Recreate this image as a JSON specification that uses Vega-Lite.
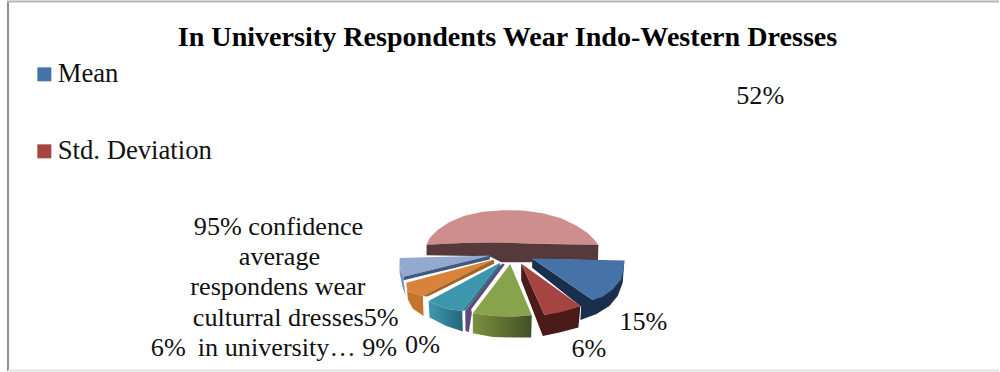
{
  "$schema": "https://vega.github.io/schema/vega-lite/v6.json",
  "width": 1000,
  "height": 372,
  "autosize": {"type": "fit", "contains": "padding"},
  "padding": 0,
  "background": "#ffffff",
  "config": {"view": {"stroke": null}},
  "datasets": {
    "faces": [
      {"part":"Slice 8","seq":1,"x":427,"y":245},{"part":"Slice 8","seq":2,"x":430,"y":238.3},{"part":"Slice 8","seq":3,"x":438.3,"y":230},{"part":"Slice 8","seq":4,"x":450,"y":222.3},{"part":"Slice 8","seq":5,"x":465,"y":216},{"part":"Slice 8","seq":6,"x":483.3,"y":212},{"part":"Slice 8","seq":7,"x":503.3,"y":210.3},{"part":"Slice 8","seq":8,"x":523.3,"y":210.7},{"part":"Slice 8","seq":9,"x":543.3,"y":213.3},{"part":"Slice 8","seq":10,"x":561.7,"y":218.3},{"part":"Slice 8","seq":11,"x":576.7,"y":225.7},{"part":"Slice 8","seq":12,"x":588.3,"y":233.3},{"part":"Slice 8","seq":13,"x":595,"y":240},{"part":"Slice 8","seq":14,"x":599,"y":245},{"part":"Slice 8","seq":15,"x":566.7,"y":244.3},{"part":"Slice 8","seq":16,"x":533.3,"y":244},{"part":"Slice 8","seq":17,"x":496.7,"y":242.7},{"part":"Slice 8","seq":18,"x":463.3,"y":243.3},
      {"part":"Slice 8 edge","seq":1,"x":427,"y":245},{"part":"Slice 8 edge","seq":2,"x":463.3,"y":243.3},{"part":"Slice 8 edge","seq":3,"x":496.7,"y":242.7},{"part":"Slice 8 edge","seq":4,"x":533.3,"y":244},{"part":"Slice 8 edge","seq":5,"x":599,"y":245},{"part":"Slice 8 edge","seq":6,"x":598.5,"y":260.7},{"part":"Slice 8 edge","seq":7,"x":533,"y":259.3},{"part":"Slice 8 edge","seq":8,"x":532.7,"y":262.7},{"part":"Slice 8 edge","seq":9,"x":501.7,"y":262.7},{"part":"Slice 8 edge","seq":10,"x":490,"y":256.7},{"part":"Slice 8 edge","seq":11,"x":427,"y":255.7},
      {"part":"Slice 7 rim","seq":1,"x":400,"y":258.3},{"part":"Slice 7 rim","seq":2,"x":400.7,"y":270},{"part":"Slice 7 rim","seq":3,"x":404,"y":277.3},{"part":"Slice 7 rim","seq":4,"x":404,"y":280.7},{"part":"Slice 7 rim","seq":5,"x":406,"y":296.7},{"part":"Slice 7 rim","seq":6,"x":402.7,"y":286.7},{"part":"Slice 7 rim","seq":7,"x":400,"y":273.3},
      {"part":"Slice 7","seq":1,"x":491,"y":256},{"part":"Slice 7","seq":2,"x":404,"y":277.3},{"part":"Slice 7","seq":3,"x":400.7,"y":270},{"part":"Slice 7","seq":4,"x":400,"y":258.3},
      {"part":"Slice 7 edge","seq":1,"x":491,"y":256},{"part":"Slice 7 edge","seq":2,"x":490,"y":260},{"part":"Slice 7 edge","seq":3,"x":404,"y":280.7},{"part":"Slice 7 edge","seq":4,"x":404,"y":277.3},
      {"part":"Slice 6 rim","seq":1,"x":406.7,"y":283.3},{"part":"Slice 6 rim","seq":2,"x":408.3,"y":291.7},{"part":"Slice 6 rim","seq":3,"x":423.3,"y":296.7},{"part":"Slice 6 rim","seq":4,"x":424,"y":316.7},{"part":"Slice 6 rim","seq":5,"x":413.3,"y":309.3},{"part":"Slice 6 rim","seq":6,"x":408.3,"y":300},
      {"part":"Slice 6","seq":1,"x":494,"y":260},{"part":"Slice 6","seq":2,"x":423.3,"y":296.7},{"part":"Slice 6","seq":3,"x":408.3,"y":291.7},{"part":"Slice 6","seq":4,"x":406.7,"y":283.3},
      {"part":"Slice 6 edge","seq":1,"x":494,"y":260},{"part":"Slice 6 edge","seq":2,"x":495,"y":264},{"part":"Slice 6 edge","seq":3,"x":428,"y":297},{"part":"Slice 6 edge","seq":4,"x":423.3,"y":296.7},
      {"part":"Slice 5","seq":1,"x":500,"y":263.3},{"part":"Slice 5","seq":2,"x":462.7,"y":311.7},{"part":"Slice 5","seq":3,"x":446.7,"y":309.3},{"part":"Slice 5","seq":4,"x":429,"y":301.7},
      {"part":"Slice 5 edge","seq":1,"x":500,"y":263.3},{"part":"Slice 5 edge","seq":2,"x":501.7,"y":267.3},{"part":"Slice 5 edge","seq":3,"x":466,"y":311},{"part":"Slice 5 edge","seq":4,"x":462.7,"y":311.7},
      {"part":"Slice 4","seq":1,"x":502.7,"y":264},{"part":"Slice 4","seq":2,"x":505.3,"y":265},{"part":"Slice 4","seq":3,"x":471.7,"y":310},{"part":"Slice 4","seq":4,"x":472.3,"y":314},{"part":"Slice 4","seq":5,"x":469.3,"y":332.7},{"part":"Slice 4","seq":6,"x":466,"y":331.7},{"part":"Slice 4","seq":7,"x":465.7,"y":311.7},
      {"part":"Slice 3","seq":1,"x":510.7,"y":264.3},{"part":"Slice 3","seq":2,"x":532.3,"y":316},{"part":"Slice 3","seq":3,"x":516.7,"y":317.3},{"part":"Slice 3","seq":4,"x":493.3,"y":316.7},{"part":"Slice 3","seq":5,"x":473.3,"y":314},
      {"part":"Std. Deviation edge","seq":1,"x":521.7,"y":264},{"part":"Std. Deviation edge","seq":2,"x":521.7,"y":280.7},{"part":"Std. Deviation edge","seq":3,"x":543.3,"y":336.7},{"part":"Std. Deviation edge","seq":4,"x":560,"y":333.3},{"part":"Std. Deviation edge","seq":5,"x":579,"y":328.3},{"part":"Std. Deviation edge","seq":6,"x":581,"y":306.7},{"part":"Std. Deviation edge","seq":7,"x":545,"y":315.7},
      {"part":"Std. Deviation","seq":1,"x":521.7,"y":264},{"part":"Std. Deviation","seq":2,"x":581,"y":306.7},{"part":"Std. Deviation","seq":3,"x":573.3,"y":309.3},{"part":"Std. Deviation","seq":4,"x":560,"y":313.3},{"part":"Std. Deviation","seq":5,"x":545,"y":315.7},
      {"part":"Mean edge","seq":1,"x":532.7,"y":259},{"part":"Mean edge","seq":2,"x":532.7,"y":268.3},{"part":"Mean edge","seq":3,"x":581.7,"y":307.3},{"part":"Mean edge","seq":4,"x":581,"y":320.7},{"part":"Mean edge","seq":5,"x":596.7,"y":315},{"part":"Mean edge","seq":6,"x":610,"y":306.7},{"part":"Mean edge","seq":7,"x":618.3,"y":296.7},{"part":"Mean edge","seq":8,"x":623.3,"y":283.3},{"part":"Mean edge","seq":9,"x":625,"y":261},{"part":"Mean edge","seq":10,"x":593.3,"y":300.7},
      {"part":"Mean","seq":1,"x":532.7,"y":259},{"part":"Mean","seq":2,"x":625,"y":261},{"part":"Mean","seq":3,"x":624.3,"y":270},{"part":"Mean","seq":4,"x":621.7,"y":280},{"part":"Mean","seq":5,"x":613.3,"y":290},{"part":"Mean","seq":6,"x":603.3,"y":297.3},{"part":"Mean","seq":7,"x":593.3,"y":300.7}
    ],
    "greenRim": [
      {"seq":1,"x":473.3,"y":314},{"seq":2,"x":493.3,"y":316.7},{"seq":3,"x":516.7,"y":317.3},{"seq":4,"x":532.3,"y":316},{"seq":5,"x":531.7,"y":338.3},{"seq":6,"x":513.3,"y":338.3},{"seq":7,"x":493.3,"y":337.7},{"seq":8,"x":473.3,"y":334}
    ],
    "tealRim": [
      {"seq":1,"x":429,"y":301.7},{"seq":2,"x":446.7,"y":309.3},{"seq":3,"x":462.7,"y":311.7},{"seq":4,"x":463.3,"y":332.3},{"seq":5,"x":446.7,"y":326.7},{"seq":6,"x":430,"y":318.3}
    ],
    "labels": [
      {"text":"52%","x":737,"y":104},
      {"text":"15%","x":620,"y":331},
      {"text":"6%","x":572,"y":358},
      {"text":"0%","x":405.5,"y":354},
      {"text":"6%","x":151,"y":357},
      {"text":"95% confidence","x":194,"y":235},
      {"text":"average","x":239,"y":265.7},
      {"text":"respondens wear","x":190.5,"y":296},
      {"text":"culturral dresses5%","x":193,"y":326.7},
      {"text":"in university… 9%","x":198,"y":357}
    ],
    "frame": [
      {"side":"left","x":8,"y":0,"x2":8,"y2":372},
      {"side":"top","x":7,"y":0.5,"x2":1000,"y2":0.5},
      {"side":"bottom","x":8,"y":371.5,"x2":1000,"y2":371.5}
    ]
  },
  "data": {"name": "faces"},
  "encoding": {
    "x": {"field": "x", "type": "quantitative", "scale": {"domain": [0, 1000], "nice": false, "zero": false}, "axis": null},
    "y": {"field": "y", "type": "quantitative", "scale": {"domain": [372, 0], "nice": false, "zero": false}, "axis": null}
  },
  "layer": [
    {
      "data": {"name": "frame"},
      "mark": {"type": "rule", "strokeWidth": 2},
      "encoding": {
        "x2": {"field": "x2"},
        "y2": {"field": "y2"},
        "stroke": {"field": "side", "type": "nominal", "legend": null, "scale": {"domain": ["left", "top", "bottom"], "range": ["#8f8f8f", "#b4b4b4", "#e2e2e2"]}}
      }
    },
    {
      "mark": {"type": "line", "strokeWidth": 0, "interpolate": "linear-closed"},
      "encoding": {
        "order": {"field": "seq", "type": "quantitative"},
        "fill": {
          "field": "part",
          "type": "nominal",
          "scale": {
            "domain": ["Mean", "Std. Deviation", "Mean edge", "Std. Deviation edge", "Slice 3", "Slice 4", "Slice 5", "Slice 5 edge", "Slice 6", "Slice 6 edge", "Slice 6 rim", "Slice 7", "Slice 7 edge", "Slice 7 rim", "Slice 8", "Slice 8 edge"],
            "range": ["#4572a7", "#a64442", "#1a2f4b", "#4a1b18", "#87a34c", "#5f4a80", "#3d96ae", "#2e7a8c", "#d9833a", "#a66422", "#c4752c", "#93a9d0", "#3f5a80", "#7a94c4", "#cf8e8e", "#56393b"]
          },
          "legend": {
            "values": ["Mean", "Std. Deviation"],
            "title": null,
            "orient": "none",
            "legendX": 31,
            "legendY": 60,
            "symbolType": "square",
            "symbolSize": 196,
            "symbolStrokeWidth": 0,
            "labelFont": "Liberation Serif",
            "labelFontSize": 26.7,
            "labelColor": "#111111",
            "labelOffset": 0,
            "rowPadding": 49
          }
        }
      }
    },
    {
      "data": {"name": "greenRim"},
      "mark": {"type": "line", "strokeWidth": 0, "interpolate": "linear-closed", "fill": {"x1": 0, "y1": 0, "x2": 1, "y2": 0, "gradient": "linear", "stops": [{"offset": 0, "color": "#7a9140"}, {"offset": 1, "color": "#434f25"}]}},
      "encoding": {"order": {"field": "seq", "type": "quantitative"}}
    },
    {
      "data": {"name": "tealRim"},
      "mark": {"type": "line", "strokeWidth": 0, "interpolate": "linear-closed", "fill": {"x1": 0, "y1": 0, "x2": 1, "y2": 0, "gradient": "linear", "stops": [{"offset": 0, "color": "#3f9ab2"}, {"offset": 1, "color": "#24667a"}]}},
      "encoding": {"order": {"field": "seq", "type": "quantitative"}}
    },
    {
      "data": {"name": "labels"},
      "mark": {"type": "text", "font": "Liberation Serif", "fontSize": 26.2, "align": "left", "baseline": "alphabetic", "color": "#111111"},
      "encoding": {"text": {"field": "text", "type": "nominal"}}
    },
    {
      "data": {"values": [{"text": "In University Respondents Wear Indo-Western Dresses", "x": 508, "y": 45}]},
      "mark": {"type": "text", "font": "Liberation Serif", "fontSize": 28.1, "fontWeight": "bold", "align": "center", "baseline": "alphabetic", "color": "#000000"},
      "encoding": {"text": {"field": "text", "type": "nominal"}}
    }
  ]
}
